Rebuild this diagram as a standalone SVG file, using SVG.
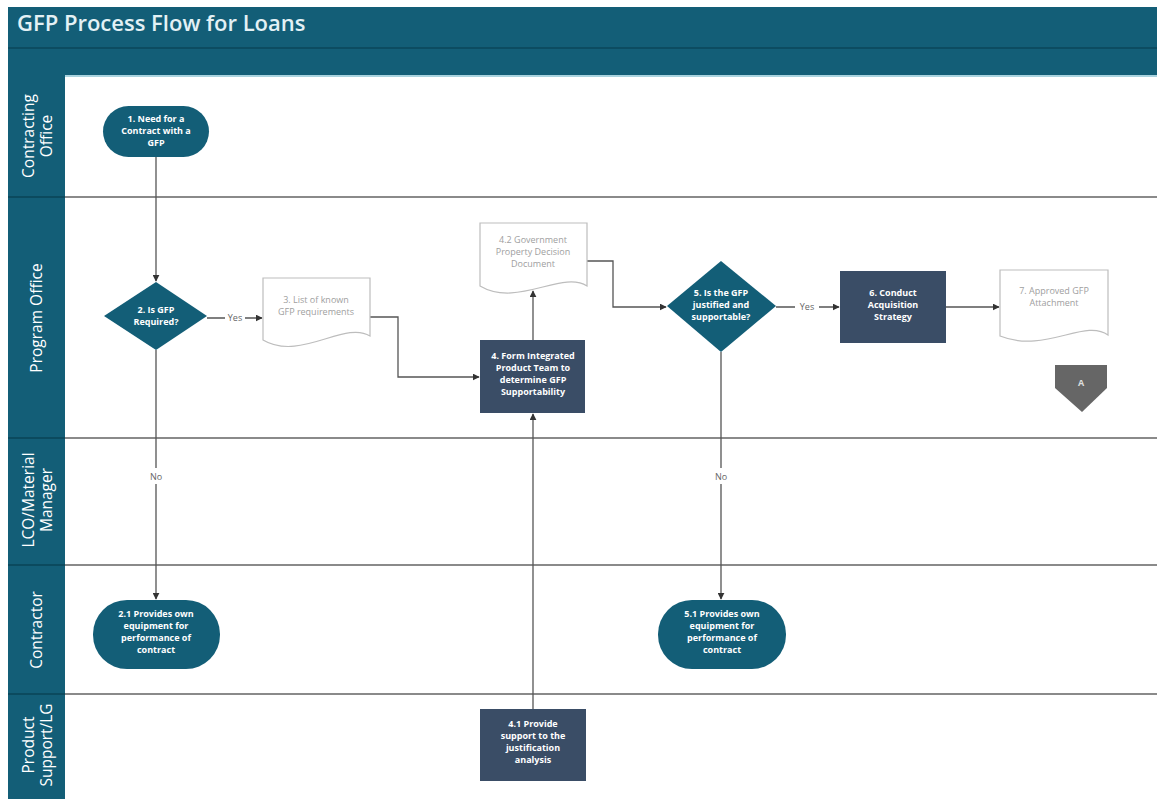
<svg xmlns="http://www.w3.org/2000/svg" width="1157" height="799" viewBox="0 0 1157 799">
<defs>
<marker id="arr" viewBox="0 0 10 10" refX="9" refY="5" markerWidth="7" markerHeight="7" orient="auto" markerUnits="userSpaceOnUse">
<path d="M0,0 L10,5 L0,10 z" fill="#333"/>
</marker>
<style>
.hdr{fill:#135e77}
.lane{fill:#135e77}
.div{stroke:#8a8a8a;stroke-width:2}
.ldiv{stroke:#0b4a5e;stroke-width:2}
.ll{font-family:"Open Sans","Noto Sans",sans-serif;font-size:15.5px;fill:#ffffff;text-anchor:middle}
.term{fill:#135e77}
.dia{fill:#135e77}
.box{fill:#3a4d66}
.doc{fill:#ffffff;stroke:#bdbdbd;stroke-width:1.2}
.nt{font-family:"Open Sans","Noto Sans",sans-serif;font-size:9px;font-weight:bold;fill:#ffffff;text-anchor:middle}
.dt{font-family:"Open Sans","Noto Sans",sans-serif;font-size:9px;fill:#a0a0a0;text-anchor:middle}
.con{fill:none;stroke:#555;stroke-width:1.3}
.cl{font-family:"Open Sans","Noto Sans",sans-serif;font-size:9px;fill:#666;text-anchor:middle}
</style>
</defs>
<rect width="1157" height="799" fill="#ffffff"/>
<g id="header">
<rect class="hdr" x="8" y="7" width="1149" height="69"/>
<rect x="8" y="47" width="1149" height="2" fill="#0c4c61"/>
<rect x="65" y="75" width="1092" height="2" fill="#a9d3df"/>
<text x="17" y="31" font-family="'Open Sans','Noto Sans',sans-serif" font-size="22" font-weight="600" fill="#e3f1f5">GFP Process Flow for Loans</text>
</g>
<g id="lanes">
<rect class="lane" x="8" y="76" width="57" height="723"/>
<line class="ldiv" x1="8" y1="197" x2="65" y2="197"/>
<line class="ldiv" x1="8" y1="438" x2="65" y2="438"/>
<line class="ldiv" x1="8" y1="565" x2="65" y2="565"/>
<line class="ldiv" x1="8" y1="694" x2="65" y2="694"/>
<line class="div" x1="65" y1="197" x2="1157" y2="197"/>
<line class="div" x1="65" y1="438" x2="1157" y2="438"/>
<line class="div" x1="65" y1="565" x2="1157" y2="565"/>
<line class="div" x1="65" y1="694" x2="1157" y2="694"/>
<text class="ll" transform="translate(37,136) rotate(-90)"><tspan x="0" y="-3">Contracting</tspan><tspan x="0" y="15">Office</tspan></text>
<text class="ll" transform="translate(37,318) rotate(-90)"><tspan x="0" y="5">Program Office</tspan></text>
<text class="ll" transform="translate(37,500) rotate(-90)"><tspan x="0" y="-3">LCO/Material</tspan><tspan x="0" y="15">Manager</tspan></text>
<text class="ll" transform="translate(37,630) rotate(-90)"><tspan x="0" y="5">Contractor</tspan></text>
<text class="ll" transform="translate(37,745) rotate(-90)"><tspan x="0" y="-3">Product</tspan><tspan x="0" y="15">Support/LG</tspan></text>
</g>
<g id="connectors">
<line class="con" x1="156" y1="157" x2="156" y2="281" marker-end="url(#arr)"/>
<path class="con" d="M207,318 H225 M245,318 H262" marker-end="url(#arr)"/>
<text class="cl" x="235" y="321">Yes</text>
<path class="con" d="M370,317 H398 V377 H479" marker-end="url(#arr)"/>
<line class="con" x1="533" y1="340" x2="533" y2="291" marker-end="url(#arr)"/>
<path class="con" d="M587,261 H613 V307 H666" marker-end="url(#arr)"/>
<path class="con" d="M776,307 H795 M819,307 H839" marker-end="url(#arr)"/>
<text class="cl" x="807" y="310">Yes</text>
<line class="con" x1="946" y1="307" x2="999" y2="307" marker-end="url(#arr)"/>
<path class="con" d="M156,350 V468 M156,484 V599" marker-end="url(#arr)"/>
<text class="cl" x="156" y="480">No</text>
<path class="con" d="M721,352 V468 M721,484 V599" marker-end="url(#arr)"/>
<text class="cl" x="721" y="480">No</text>
<line class="con" x1="533" y1="709" x2="533" y2="414" marker-end="url(#arr)"/>
</g>
<g id="n1">
<rect class="term" x="103" y="106" width="106" height="51" rx="25.5"/>
<text class="nt"><tspan x="156" y="122">1. Need for a</tspan><tspan x="156" y="134">Contract with a</tspan><tspan x="156" y="146">GFP</tspan></text>
</g>
<g id="n2">
<polygon class="dia" points="156,282 207,316 156,350 104,316"/>
<text class="nt"><tspan x="156" y="313">2. Is GFP</tspan><tspan x="156" y="325">Required?</tspan></text>
</g>
<g id="n3">
<path class="doc" d="M263,278 H370 V336 C345,320 300,362 263,340 Z"/>
<text class="dt"><tspan x="316" y="303">3. List of known</tspan><tspan x="316" y="315">GFP requirements</tspan></text>
</g>
<g id="n4">
<rect class="box" x="480" y="340" width="105" height="73"/>
<text class="nt"><tspan x="533" y="359">4. Form Integrated</tspan><tspan x="533" y="371">Product Team to</tspan><tspan x="533" y="383">determine GFP</tspan><tspan x="533" y="395">Supportability</tspan></text>
</g>
<g id="n42">
<path class="doc" d="M480,223 H587 V286 C562,270 517,308 480,286 Z"/>
<text class="dt"><tspan x="533" y="243">4.2 Government</tspan><tspan x="533" y="255">Property Decision</tspan><tspan x="533" y="267">Document</tspan></text>
</g>
<g id="n5">
<polygon class="dia" points="721,261 776,306 721,352 667,306"/>
<text class="nt"><tspan x="721" y="296">5. Is the GFP</tspan><tspan x="721" y="308">justified and</tspan><tspan x="721" y="320">supportable?</tspan></text>
</g>
<g id="n6">
<rect class="box" x="840" y="271" width="106" height="72"/>
<text class="nt"><tspan x="893" y="296">6. Conduct</tspan><tspan x="893" y="308">Acquisition</tspan><tspan x="893" y="320">Strategy</tspan></text>
</g>
<g id="n7">
<path class="doc" d="M1000,270 H1108 V335 C1085,318 1045,354 1000,336 Z"/>
<text class="dt"><tspan x="1054" y="294">7. Approved GFP</tspan><tspan x="1054" y="306">Attachment</tspan></text>
</g>
<g id="nA">
<polygon points="1055,365 1107,365 1107,388 1082,412 1055,388" fill="#666666"/>
<text x="1081" y="386" font-family="'Open Sans','Noto Sans',sans-serif" font-size="9" font-weight="bold" fill="#dddddd" text-anchor="middle">A</text>
</g>
<g id="n21">
<rect class="term" x="93" y="600" width="127" height="69" rx="34"/>
<text class="nt"><tspan x="156" y="617">2.1 Provides own</tspan><tspan x="156" y="629">equipment for</tspan><tspan x="156" y="641">performance of</tspan><tspan x="156" y="653">contract</tspan></text>
</g>
<g id="n51">
<rect class="term" x="658" y="600" width="128" height="69" rx="34"/>
<text class="nt"><tspan x="722" y="617">5.1 Provides own</tspan><tspan x="722" y="629">equipment for</tspan><tspan x="722" y="641">performance of</tspan><tspan x="722" y="653">contract</tspan></text>
</g>
<g id="n41">
<rect class="box" x="480" y="709" width="106" height="72"/>
<text class="nt"><tspan x="533" y="727">4.1 Provide</tspan><tspan x="533" y="739">support to the</tspan><tspan x="533" y="751">justification</tspan><tspan x="533" y="763">analysis</tspan></text>
</g>
</svg>
